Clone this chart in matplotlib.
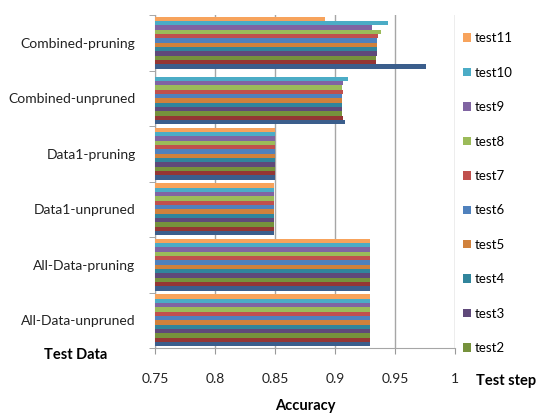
"""
Accuracy per test step for each training data setup (horizontal grouped bars).
"""

import numpy as np
import matplotlib.pyplot as plt
from matplotlib.patches import Patch

plt.rcParams["font.family"] = ["Lato", "DejaVu Sans"]

# =========================
# DATA
# =========================
categories = ["Combined-pruning", "Combined-unpruned", "Data1-pruning",
              "Data1-unpruned", "All-Data-pruning", "All-Data-unpruned"]

steps = ["test0", "test1", "test2", "test3", "test4", "test5",
         "test6", "test7", "test8", "test9", "test10", "test11"]

# one list per test step, values follow `categories`
test0 = [0.976, 0.908, 0.850, 0.849, 0.929, 0.929]
test1 = [0.934, 0.907, 0.850, 0.849, 0.929, 0.929]
test2 = [0.934, 0.906, 0.850, 0.849, 0.929, 0.929]
test3 = [0.935, 0.906, 0.850, 0.849, 0.929, 0.929]
test4 = [0.935, 0.906, 0.850, 0.849, 0.929, 0.929]
test5 = [0.935, 0.906, 0.850, 0.849, 0.929, 0.929]
test6 = [0.935, 0.906, 0.850, 0.849, 0.929, 0.929]
test7 = [0.936, 0.907, 0.850, 0.849, 0.929, 0.929]
test8 = [0.938, 0.906, 0.850, 0.849, 0.929, 0.929]
test9 = [0.931, 0.907, 0.850, 0.849, 0.929, 0.929]
test10 = [0.944, 0.911, 0.850, 0.849, 0.929, 0.929]
test11 = [0.892, np.nan, 0.850, 0.849, 0.929, 0.929]

values = [test0, test1, test2, test3, test4, test5,
          test6, test7, test8, test9, test10, test11]

colors = ["#3B5E8C", "#943634", "#76923C", "#5F497A", "#31859C", "#D0813C",
          "#4F81BD", "#C0504D", "#9BBB59", "#8064A2", "#4BACC6", "#F7A35C"]

x_ticks = [0.75, 0.8, 0.85, 0.9, 0.95, 1.0]
x_tick_labels = ["0.75", "0.8", "0.85", "0.9", "0.95", "1"]

# =========================
# PLOT
# =========================
fig = plt.figure(figsize=(5.46, 4.16), dpi=100)
ax = fig.add_axes([155 / 546, 1 - 348 / 416, 300 / 546, 333 / 416])

n_cat = len(categories)
y_base = np.arange(n_cat)[::-1]          # first category on top
group = 0.94
h = group / len(steps)

for k, (vals, col) in enumerate(zip(values, colors)):
    y = y_base - group / 2 + (k + 0.5) * h
    ax.barh(y, vals, height=h, color=col, edgecolor="none", zorder=3)

ax.set_xlim(0.75, 1.0)
ax.set_ylim(-0.5, n_cat - 0.5)

ax.set_xticks(x_ticks)
ax.set_xticklabels(x_tick_labels, fontsize=10, color="#222222")
ax.set_yticks(y_base)
ax.set_yticklabels(categories, fontsize=10, color="#222222")
ax.set_yticks(np.arange(n_cat + 1) - 0.5, minor=True)
ax.tick_params(axis="y", which="major", length=0, pad=14)
ax.tick_params(axis="y", which="minor", length=4, color="#999999", direction="out")
ax.tick_params(axis="x", length=4, color="#999999", direction="out", pad=14)

ax.grid(axis="x", color="#A6A6A6", linewidth=1.0, zorder=0)
for side in ["top", "right"]:
    ax.spines[side].set_visible(False)
for side in ["left", "bottom"]:
    ax.spines[side].set_color("#A6A6A6")

ax.set_xlabel("Accuracy", fontsize=10.5, fontweight="bold", labelpad=10)
fig.text(76 / 546, 1 - 355 / 416, "Test Data", fontsize=10.5,
         fontweight="bold", ha="center", va="center")
fig.text(506 / 546, 1 - 381 / 416, "Test step", fontsize=10.5,
         fontweight="bold", ha="center", va="center")

# legend lists test11 down to test2
shown = list(range(len(steps) - 1, 1, -1))
handles = [Patch(facecolor=colors[i], edgecolor="none") for i in shown]
labels = [steps[i] for i in shown]
fig.legend(handles, labels, loc="upper left",
           bbox_to_anchor=(458 / 546, 1 - 27 / 416), frameon=False,
           fontsize=9.5, handlelength=0.6, handleheight=0.6,
           handletextpad=0.3, labelspacing=1.70, borderaxespad=0)

plt.savefig("out.png", dpi=100)
